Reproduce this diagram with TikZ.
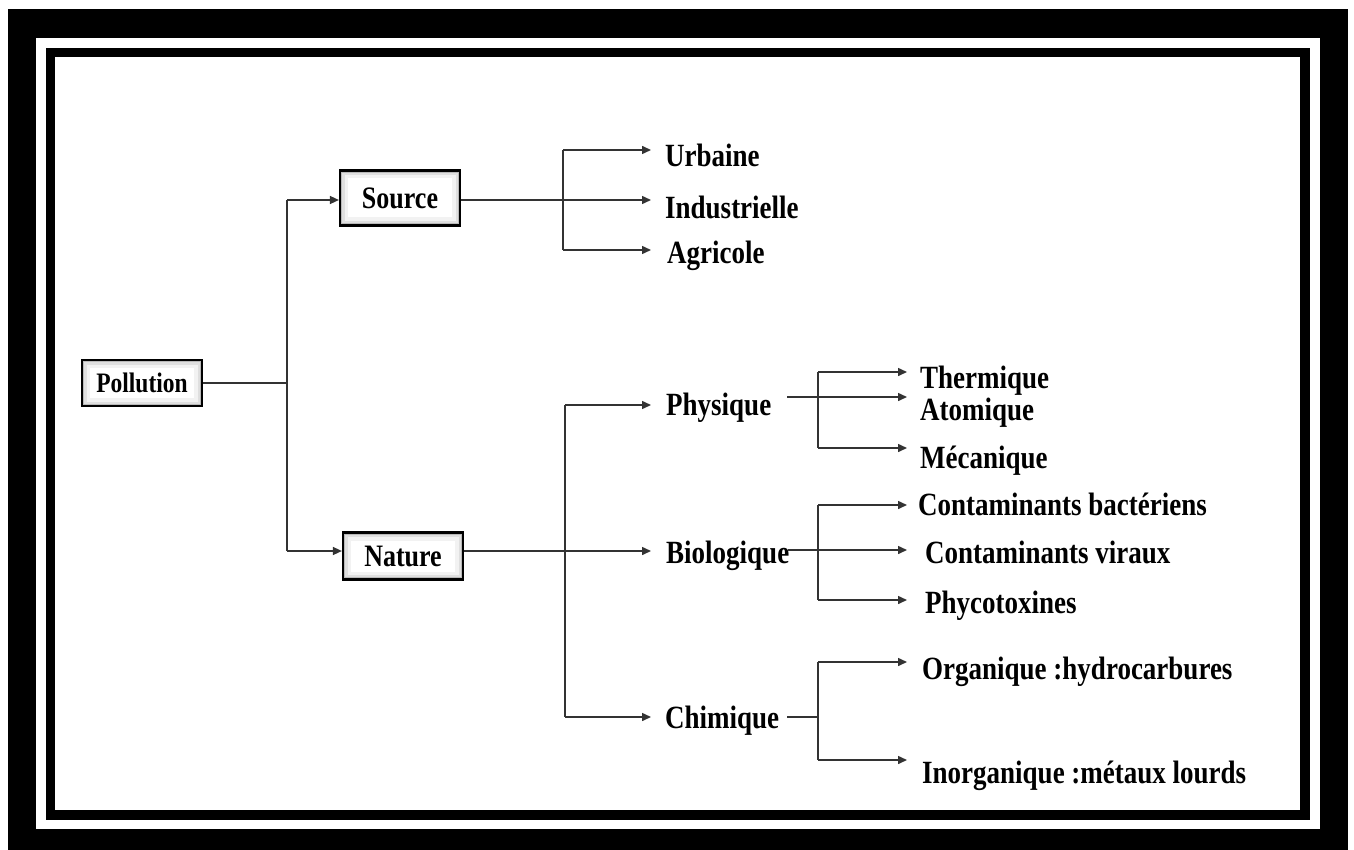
\documentclass[tikz,border=0pt]{standalone}
\usepackage{fontspec}
\setmainfont{Liberation Serif}
\usetikzlibrary{arrows.meta}
\newcommand{\Tx}[1]{\scalebox{1}[1.2]{#1}}
\begin{document}
\begin{tikzpicture}[x=1pt,y=-1pt,
  lbl/.style={anchor=base west, inner sep=0pt, font=\fontsize{27}{30}\selectfont\bfseries},
  box/.style={draw=black, line width=2.2pt, fill=white, inner sep=0pt,
    font=\fontsize{26}{30}\selectfont\bfseries,
    path picture={
      \draw[gray!10,line width=16pt] (path picture bounding box.south west) rectangle (path picture bounding box.north east);
      \draw[gray!25,line width=9pt] (path picture bounding box.south west) rectangle (path picture bounding box.north east);
      \draw[gray!55,line width=4.5pt] (path picture bounding box.south west) rectangle (path picture bounding box.north east);
    }},
  ln/.style={line width=1.5pt, draw=black!80},
  arr/.style={ln, -{Triangle[length=9pt,width=8pt]}},
]
\useasboundingbox (0,0) rectangle (1354,850);
% frame
\fill[black] (8,9) rectangle (1348,850);
\fill[white] (36,38) rectangle (1320,829);
\fill[black] (46,48) rectangle (1310,820);
\fill[white] (55,57) rectangle (1300,810);

% boxes
\node[box, minimum width=120pt, minimum height=46pt, font=\fontsize{23.5}{28}\selectfont\bfseries] (pol) at (142,383) {\Tx{Pollution}};
\node[box, minimum width=120pt, minimum height=55pt] (src) at (400,198) {\Tx{Source}};
\node[box, minimum width=120pt, minimum height=47pt] (nat) at (403,556) {\Tx{Nature}};

% level-1 connectors
\coordinate (j0) at (287,383);
\coordinate (j0t) at (287,200);
\coordinate (j0b) at (287,551);
\draw[ln] (pol.east) -- (j0);
\draw[ln] (j0t) -- (j0b);
\draw[arr] (j0t) -- (j0t -| src.west);
\draw[arr] (j0b) -- (j0b -| nat.west);

% Source branch
\coordinate (s1) at (563,150);
\coordinate (s3) at (563,250);
\coordinate (tUrb) at (651,150);
\coordinate (tInd) at (651,200);
\coordinate (tAgr) at (651,250);
\node[lbl] (urb) at (665,167) {\Tx{Urbaine}};
\node[lbl] (ind) at (665,219) {\Tx{Industrielle}};
\node[lbl] (agr) at (667,264) {\Tx{Agricole}};
\draw[ln] (s1) -- (s3);
\draw[arr] (s1) -- (tUrb);
\draw[arr] (s3) -- (tAgr);
\draw[arr] (src.east |- tInd) -- (tInd);

% Nature branch
\coordinate (n1) at (565,405);
\coordinate (n3) at (565,717);
\coordinate (tPhy) at (651,405);
\coordinate (tBio) at (651,551);
\coordinate (tChi) at (651,717);
\node[lbl] (phy) at (666,415) {\Tx{Physique}};
\node[lbl] (bio) at (666,563) {\Tx{Biologique}};
\node[lbl] (chi) at (665,728) {\Tx{Chimique}};
\draw[ln] (n1) -- (n3);
\draw[arr] (n1) -- (tPhy);
\draw[arr] (n3) -- (tChi);
\draw[arr] (nat.east |- tBio) -- (tBio);

% Physique branch
\coordinate (p0) at (787,397);
\coordinate (p1) at (818,372);
\coordinate (p3) at (818,448);
\coordinate (tThe) at (907,372);
\coordinate (tAto) at (907,397);
\coordinate (tMec) at (907,448);
\node[lbl] (the) at (920,388) {\Tx{Thermique}};
\node[lbl] (ato) at (920,420) {\Tx{Atomique}};
\node[lbl] (mec) at (920,468) {\Tx{Mécanique}};
\draw[ln] (p1) -- (p3);
\draw[arr] (p1) -- (tThe);
\draw[arr] (p0) -- (tAto);
\draw[arr] (p3) -- (tMec);

% Biologique branch
\coordinate (b0) at (788,550);
\coordinate (b1) at (818,505);
\coordinate (b3) at (818,600);
\coordinate (tCb) at (907,505);
\coordinate (tCv) at (907,550);
\coordinate (tPh) at (907,600);
\node[lbl] (cb) at (918,515) {\Tx{Contaminants bactériens}};
\node[lbl] (cv) at (925,563) {\Tx{Contaminants viraux}};
\node[lbl] (phc) at (925,613) {\Tx{Phycotoxines}};
\draw[ln] (b1) -- (b3);
\draw[arr] (b1) -- (tCb);
\draw[arr] (b0) -- (tCv);
\draw[arr] (b3) -- (tPh);

% Chimique branch
\coordinate (c0) at (787,717);
\coordinate (cj) at (818,717);
\coordinate (c1) at (818,662);
\coordinate (c3) at (818,760);
\coordinate (tOrg) at (907,662);
\coordinate (tIno) at (907,760);
\node[lbl] (org) at (922,679) {\Tx{Organique :hydrocarbures}};
\node[lbl] (ino) at (922,783) {\Tx{Inorganique :métaux lourds}};
\draw[ln] (c0) -- (cj);
\draw[ln] (c1) -- (c3);
\draw[arr] (c1) -- (tOrg);
\draw[arr] (c3) -- (tIno);
\end{tikzpicture}
\end{document}
